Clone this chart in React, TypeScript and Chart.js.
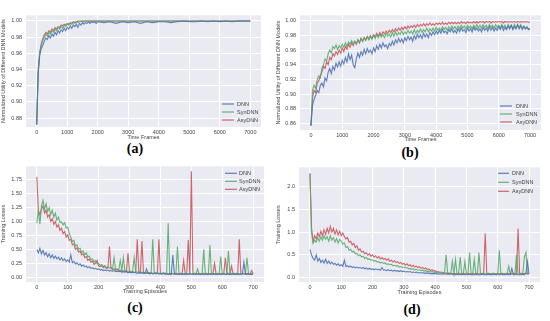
import React, { useEffect, useRef } from "react";
import { Chart, registerables } from "chart.js";
Chart.register(...registerables);

const FONT = "'Liberation Sans', Arial, sans-serif";
const TEXT = "#444444";
const BG = "#EAEAF2";
const COLORS = ["rgba(76,114,176,0.9)", "rgba(85,168,104,0.88)", "rgba(196,78,82,0.85)"];
const seriesNames = ["DNN", "SynDNN", "AsyDNN"];

// ---------- (a) ----------
const framesA = [0,50,100,150,200,250,300,350,400,450,500,550,600,650,700,750,800,850,900,950,1000,1050,1100,1150,1200,1250,1300,1350,1400,1450,1500,1550,1600,1650,1700,1750,1800,1850,1900,1950,2000,2200,2400,2600,2800,3000,3200,3400,3600,3800,4000,4200,4400,4600,4800,5000,5200,5400,5600,5800,6000,6200,6400,6600,6800,7000];
const utilA_DNN = [0.872,0.935,0.958,0.966,0.970,0.975,0.979,0.977,0.982,0.979,0.984,0.981,0.986,0.983,0.988,0.985,0.989,0.987,0.991,0.988,0.992,0.990,0.994,0.991,0.995,0.993,0.996,0.992,0.997,0.995,0.998,0.996,0.998,0.997,0.999,0.997,0.999,0.998,0.999,0.997,0.999,
  0.998,0.999,0.997,0.999,0.998,0.999,0.997,0.999,0.998,0.999,0.999,0.998,0.999,1.0,0.999,0.999,1.0,0.999,1.0,0.999,1.0,0.999,1.0,1.0,1.0];
const utilA_Syn = [0.872,0.940,0.962,0.970,0.976,0.980,0.984,0.981,0.986,0.984,0.988,0.986,0.990,0.988,0.992,0.990,0.993,0.991,0.995,0.993,0.996,0.995,0.997,0.996,0.998,0.997,0.999,0.998,0.999,0.999,1.0,0.999,1.0,1.0,1.0,1.0,1.0,1.0,1.0,1.0,1.0,
  1.0,1.0,1.0,1.0,1.0,1.0,1.0,1.0,1.0,1.0,1.0,1.0,1.0,1.0,1.0,1.0,1.0,1.0,1.0,1.0,1.0,1.0,1.0,1.0,1.0];
const utilA_Asy = [0.872,0.938,0.960,0.972,0.978,0.983,0.986,0.984,0.988,0.986,0.990,0.988,0.992,0.990,0.993,0.992,0.995,0.994,0.996,0.995,0.997,0.996,0.998,0.997,0.999,0.998,0.999,1.0,1.0,1.0,1.0,1.0,1.0,1.0,1.0,1.0,1.0,1.0,1.0,1.0,1.0,
  1.0,1.0,1.0,1.0,1.0,1.0,1.0,1.0,1.0,1.0,1.0,1.0,1.0,1.0,1.0,1.0,1.0,1.0,1.0,1.0,1.0,1.0,1.0,1.0,1.0];

// ---------- (b) ----------
const framesB = [0,50,100,150,200,250,300,350,400,450,500,550,600,650,700,750,800,850,900,950,
  1000,1050,1100,1150,1200,1250,1300,1350,1400,1450,1500,1550,1600,1650,1700,1750,1800,1850,1900,1950,
  2000,2050,2100,2150,2200,2250,2300,2350,2400,2450,2500,2550,2600,2650,2700,2750,2800,2850,2900,2950,
  3000,3050,3100,3150,3200,3250,3300,3350,3400,3450,3500,3550,3600,3650,3700,3750,3800,3850,3900,3950,
  4000,4050,4100,4150,4200,4250,4300,4350,4400,4450,4500,4550,4600,4650,4700,4750,4800,4850,4900,4950,
  5000,5050,5100,5150,5200,5250,5300,5350,5400,5450,5500,5550,5600,5650,5700,5750,5800,5850,5900,5950,
  6000,6050,6100,6150,6200,6250,6300,6350,6400,6450,6500,6550,6600,6650,6700,6750,6800,6850,6900,6950,7000];
const utilB_DNN = [0.857,0.885,0.893,0.898,0.905,0.902,0.912,0.915,0.910,0.922,
  0.918,0.930,0.935,0.928,0.938,0.933,0.942,0.937,0.944,0.938,
  0.946,0.941,0.950,0.944,0.955,0.947,0.953,0.940,0.936,0.948,
  0.956,0.950,0.958,0.953,0.961,0.955,0.962,0.957,0.960,0.955,
  0.963,0.958,0.966,0.961,0.968,0.963,0.970,0.965,0.967,0.962,
  0.969,0.966,0.972,0.967,0.974,0.970,0.976,0.971,0.975,0.970,
  0.977,0.973,0.979,0.974,0.978,0.972,0.980,0.975,0.982,0.977,
  0.981,0.976,0.983,0.978,0.982,0.977,0.984,0.980,0.985,0.981,
  0.986,0.982,0.987,0.983,0.988,0.984,0.986,0.982,0.988,0.985,
  0.989,0.984,0.987,0.983,0.989,0.985,0.990,0.986,0.988,0.984,
  0.990,0.986,0.989,0.985,0.991,0.987,0.990,0.986,0.989,0.985,
  0.991,0.987,0.990,0.986,0.992,0.987,0.991,0.986,0.990,0.987,
  0.992,0.988,0.993,0.987,0.991,0.988,0.993,0.989,0.994,0.988,
  0.992,0.989,0.995,0.989,0.993,0.988,0.992,0.989,0.991,0.988,0.989];
const utilB_Syn = [0.857,0.905,0.912,0.908,0.920,0.925,0.922,0.935,0.940,0.948,
  0.945,0.955,0.960,0.956,0.965,0.962,0.967,0.961,0.966,0.963,
  0.968,0.964,0.970,0.965,0.971,0.968,0.973,0.969,0.972,0.968,
  0.974,0.970,0.976,0.972,0.977,0.973,0.978,0.974,0.979,0.975,
  0.980,0.976,0.981,0.977,0.982,0.978,0.981,0.977,0.983,0.979,
  0.982,0.978,0.984,0.979,0.985,0.980,0.984,0.981,0.986,0.981,
  0.985,0.982,0.987,0.983,0.986,0.982,0.988,0.983,0.987,0.984,
  0.989,0.984,0.988,0.985,0.990,0.985,0.989,0.986,0.990,0.986,
  0.991,0.987,0.990,0.987,0.992,0.988,0.991,0.987,0.992,0.988,
  0.993,0.989,0.992,0.988,0.993,0.989,0.994,0.990,0.993,0.989,
  0.994,0.990,0.993,0.989,0.994,0.990,0.995,0.990,0.994,0.990,
  0.995,0.991,0.994,0.990,0.995,0.991,0.994,0.990,0.995,0.991,
  0.994,0.990,0.995,0.991,0.994,0.989,0.995,0.991,0.994,0.990,
  0.995,0.990,0.994,0.991,0.995,0.990,0.993,0.989,0.992,0.988,0.990];
const utilB_Asy = [0.857,0.895,0.905,0.902,0.915,0.918,0.925,0.930,0.938,0.935,
  0.944,0.940,0.950,0.947,0.955,0.952,0.958,0.954,0.960,0.956,
  0.963,0.958,0.965,0.961,0.968,0.964,0.970,0.966,0.972,0.968,
  0.974,0.970,0.976,0.972,0.977,0.974,0.979,0.975,0.980,0.976,
  0.981,0.978,0.983,0.979,0.984,0.980,0.985,0.982,0.986,0.983,
  0.987,0.984,0.988,0.985,0.989,0.986,0.990,0.987,0.991,0.988,
  0.992,0.989,0.993,0.990,0.993,0.991,0.994,0.991,0.995,0.992,
  0.995,0.993,0.996,0.993,0.996,0.994,0.997,0.994,0.996,0.994,
  0.997,0.995,0.997,0.995,0.998,0.995,0.997,0.995,0.998,0.996,
  0.998,0.996,0.998,0.996,0.998,0.996,0.999,0.997,0.998,0.996,
  0.999,0.997,0.998,0.997,0.999,0.997,0.999,0.997,0.999,0.998,
  0.999,0.997,0.999,0.998,0.999,0.997,0.999,0.998,0.999,0.998,
  0.999,0.998,0.999,0.997,0.999,0.998,0.999,0.998,0.999,0.998,
  0.999,0.998,0.999,0.998,0.999,0.998,0.999,0.998,0.999,0.998,0.998];

// ---------- (c) and (d) ----------
const episodes = [0,5,10,15,20,25,30,35,40,45,50,55,60,65,70,75,80,85,90,95,
  100,105,110,115,120,125,130,135,140,145,150,155,160,165,170,175,180,185,190,195,
  200,205,210,215,220,225,230,235,240,245,250,255,260,265,270,275,280,285,290,295,
  300,305,310,315,320,325,330,335,340,345,350,355,360,365,370,375,380,385,390,395,
  400,405,410,415,420,425,430,435,440,445,450,455,460,465,470,475,480,485,490,495,
  500,505,510,515,520,525,530,535,540,545,550,555,560,565,570,575,580,585,590,595,
  600,605,610,615,620,625,630,635,640,645,650,655,660,665,670,675,680,685,690,695,700];

const lossC_DNN = [0.50,0.44,0.52,0.42,0.48,0.40,0.44,0.37,0.42,0.35,0.40,0.34,0.38,0.33,0.36,0.31,0.35,0.30,0.33,0.28,
  0.31,0.27,0.40,0.26,0.28,0.24,0.26,0.22,0.24,0.20,0.22,0.19,0.20,0.17,0.19,0.16,0.17,0.15,0.16,0.14,
  0.15,0.13,0.14,0.12,0.13,0.12,0.13,0.11,0.12,0.11,0.12,0.10,0.11,0.10,0.11,0.09,0.10,0.09,0.10,0.08,
  0.09,0.08,0.09,0.08,0.08,0.07,0.08,0.07,0.08,0.07,0.07,0.15,0.07,0.06,0.07,0.06,0.07,0.06,0.07,0.06,
  0.06,0.06,0.07,0.05,0.06,0.05,0.06,0.05,0.40,0.06,0.05,0.06,0.05,0.06,0.05,0.06,0.05,0.06,0.05,0.06,
  0.05,0.05,0.06,0.05,0.06,0.05,0.05,0.06,0.05,0.06,0.05,0.05,0.06,0.05,0.05,0.06,0.05,0.05,0.06,0.05,
  0.05,0.06,0.05,0.05,0.06,0.05,0.05,0.06,0.05,0.05,0.06,0.05,0.05,0.06,0.27,0.05,0.05,0.06,0.05,0.05,0.05];
const lossC_Syn = [0.97,1.20,0.95,1.28,1.38,1.22,1.32,1.18,1.25,1.12,1.20,1.08,1.15,1.02,1.08,0.98,1.00,0.94,0.98,0.88,
  0.90,0.78,0.72,0.64,0.66,0.56,0.58,0.50,0.52,0.44,0.47,0.40,0.44,0.36,0.38,0.31,0.33,0.27,0.30,0.24,
  0.25,0.21,0.23,0.19,0.21,0.17,0.19,0.16,0.18,0.15,0.35,0.14,0.15,0.13,0.30,0.12,0.35,0.11,0.12,0.10,
  0.11,0.10,0.11,0.35,0.10,0.09,0.10,0.09,0.09,0.08,0.09,0.08,0.09,0.08,0.08,0.68,0.08,0.07,0.08,0.07,
  0.07,0.07,0.08,0.07,0.07,0.97,0.07,0.06,0.07,0.06,0.07,0.55,0.06,0.07,0.06,0.06,0.07,0.06,0.06,0.07,
  0.06,0.06,0.07,0.06,0.15,0.06,0.06,0.07,0.50,0.06,0.07,0.06,0.58,0.06,0.07,0.06,0.06,0.07,0.06,0.37,
  0.06,0.07,0.06,0.06,0.47,0.06,0.07,0.06,0.06,0.07,0.06,0.06,0.07,0.06,0.06,0.07,0.35,0.06,0.06,0.07,0.06];
const lossC_Asy = [1.80,1.20,1.12,1.22,1.28,1.15,1.20,1.08,1.12,1.00,1.05,0.95,1.00,0.90,0.94,0.84,0.88,0.78,0.82,0.72,
  0.76,0.66,0.68,0.58,0.60,0.50,0.53,0.45,0.47,0.40,0.42,0.35,0.37,0.30,0.33,0.27,0.29,0.23,0.25,0.30,
  0.20,0.19,0.21,0.17,0.19,0.16,0.17,0.55,0.16,0.14,0.15,0.13,0.14,0.12,0.13,0.11,0.12,0.10,0.11,0.43,
  0.10,0.09,0.10,0.09,0.09,0.68,0.09,0.08,0.65,0.08,0.08,0.07,0.08,0.07,0.08,0.07,0.07,0.08,0.07,0.68,
  0.07,0.06,0.07,0.06,0.07,0.06,0.06,0.07,0.06,0.06,0.07,0.06,0.06,0.07,0.06,0.30,0.06,0.07,0.67,0.06,
  1.90,0.06,0.07,0.06,0.06,0.07,0.06,0.06,0.07,0.06,0.06,0.07,0.06,0.06,0.07,0.25,0.06,0.06,0.07,0.06,
  0.06,0.07,0.35,0.06,0.07,0.06,0.20,0.06,0.07,0.06,0.06,0.68,0.06,0.07,0.06,0.06,0.07,0.06,0.06,0.12,0.06];

const lossD_DNN = [0.62,0.50,0.42,0.38,0.50,0.36,0.42,0.33,0.38,0.32,0.40,0.31,0.36,0.30,0.34,0.29,0.31,0.27,0.30,0.26,
  0.28,0.25,0.38,0.24,0.26,0.23,0.25,0.22,0.24,0.21,0.23,0.21,0.22,0.20,0.22,0.19,0.21,0.18,0.20,0.18,
  0.19,0.17,0.19,0.17,0.18,0.16,0.22,0.16,0.17,0.15,0.17,0.15,0.16,0.14,0.16,0.14,0.15,0.13,0.15,0.13,
  0.14,0.12,0.13,0.12,0.13,0.11,0.12,0.11,0.12,0.10,0.11,0.10,0.11,0.09,0.10,0.09,0.10,0.08,0.09,0.08,
  0.09,0.08,0.08,0.07,0.08,0.07,0.08,0.07,0.07,0.07,0.08,0.07,0.07,0.06,0.07,0.06,0.07,0.06,0.07,0.06,
  0.06,0.06,0.07,0.06,0.06,0.06,0.07,0.06,0.06,0.06,0.07,0.06,0.06,0.06,0.07,0.06,0.06,0.06,0.07,0.06,
  0.06,0.06,0.07,0.06,0.06,0.06,0.07,0.06,0.06,0.20,0.06,0.06,0.07,0.06,0.06,0.06,0.07,0.06,0.10,0.35,0.08];
const lossD_Syn = [2.28,1.00,0.75,0.82,0.78,0.88,0.80,0.90,0.82,0.92,0.84,0.90,0.80,0.92,0.82,0.88,0.78,0.86,0.76,0.84,
  0.80,0.74,0.76,0.66,0.68,0.60,0.62,0.56,0.58,0.52,0.53,0.48,0.50,0.45,0.47,0.42,0.44,0.40,0.41,0.38,
  0.39,0.36,0.37,0.34,0.35,0.32,0.34,0.31,0.32,0.29,0.30,0.28,0.29,0.26,0.27,0.25,0.26,0.23,0.24,0.22,
  0.23,0.21,0.22,0.19,0.20,0.18,0.19,0.17,0.18,0.16,0.17,0.15,0.16,0.14,0.15,0.13,0.14,0.12,0.13,0.11,
  0.12,0.10,0.11,0.10,0.10,0.09,0.10,0.50,0.09,0.08,0.09,0.35,0.08,0.40,0.08,0.09,0.45,0.08,0.08,0.35,
  0.08,0.09,0.55,0.08,0.08,0.40,0.08,0.09,0.55,0.08,0.08,0.09,0.08,0.08,0.09,0.08,0.08,0.09,0.08,0.08,
  0.09,0.60,0.08,0.08,0.09,0.08,0.08,0.25,0.08,0.08,0.09,0.08,0.50,0.08,0.09,0.08,0.08,0.45,0.55,0.09,0.08];
const lossD_Asy = [2.30,1.10,0.80,0.92,0.85,0.98,0.90,1.02,0.92,1.05,0.95,1.08,0.98,1.13,1.00,1.08,0.96,1.05,0.94,1.02,
  0.92,0.98,0.90,0.85,0.88,0.78,0.80,0.72,0.75,0.66,0.70,0.60,0.63,0.56,0.58,0.52,0.55,0.49,0.52,0.47,
  0.50,0.45,0.48,0.43,0.46,0.41,0.44,0.40,0.42,0.38,0.41,0.36,0.38,0.34,0.37,0.33,0.35,0.31,0.33,0.29,
  0.31,0.27,0.30,0.26,0.28,0.24,0.27,0.23,0.25,0.22,0.24,0.20,0.22,0.19,0.21,0.17,0.19,0.15,0.17,0.14,
  0.15,0.12,0.13,0.11,0.12,0.10,0.11,0.09,0.10,0.09,0.09,0.08,0.09,0.08,0.08,0.09,0.08,0.08,0.09,0.08,
  0.08,0.09,0.08,0.08,0.09,0.08,0.08,0.09,0.08,0.08,0.09,0.08,0.97,0.08,0.09,0.08,0.08,0.09,0.08,0.08,
  0.09,0.08,0.08,0.09,0.08,0.08,0.09,0.08,0.08,0.09,0.08,0.08,0.09,1.08,0.08,0.09,0.08,0.08,0.09,0.08,0.08];

// tick labels
const frameTicks = [0, 1000, 2000, 3000, 4000, 5000, 6000, 7000];
const episodeTicks = [0, 100, 200, 300, 400, 500, 600, 700];
const utilTicksA = [0.88, 0.90, 0.92, 0.94, 0.96, 0.98, 1.00];
const utilTicksB = [0.86, 0.88, 0.90, 0.92, 0.94, 0.96, 0.98, 1.00];
const lossTicksC = [0, 0.25, 0.5, 0.75, 1.0, 1.25, 1.5, 1.75];
const lossTicksD = [0, 0.5, 1.0, 1.5, 2.0];

type Spec = {
  id: string;
  label: string;
  labelX: number;
  labelY: number;
  left: number; top: number; width: number; height: number;
  yAxisW: number; xAxisH: number;
  xs: number[]; ys: number[][];
  xMin: number; xMax: number; yMin: number; yMax: number;
  xTicks: number[]; yTicks: number[]; yDigits: number;
  xTitle: string; yTitle: string;
  legend: { x1: number; x2: number; tx: number; rows: number[]; fromBottom: boolean };
};

const specs: Spec[] = [
  {
    id: "a", label: "(a)", labelX: 135, labelY: 149,
    left: 0, top: 8, width: 261, height: 133, yAxisW: 26, xAxisH: 14,
    xs: framesA, ys: [utilA_DNN, utilA_Syn, utilA_Asy],
    xMin: -350, xMax: 7350, yMin: 0.869, yMax: 1.007,
    xTicks: frameTicks, yTicks: utilTicksA, yDigits: 2,
    xTitle: "Time Frames", yTitle: "Normalized Utility of Different DNN Models",
    legend: { x1: -39, x2: -27, tx: -24, rows: [-23, -15, -7], fromBottom: true },
  },
  {
    id: "b", label: "(b)", labelX: 410, labelY: 153,
    left: 275, top: 8, width: 266, height: 135, yAxisW: 25, xAxisH: 13,
    xs: framesB, ys: [utilB_DNN, utilB_Syn, utilB_Asy],
    xMin: -350, xMax: 7350, yMin: 0.851, yMax: 1.0075,
    xTicks: frameTicks, yTicks: utilTicksB, yDigits: 2,
    xTitle: "Time Frames", yTitle: "Normalized Utility of Different DNN Models",
    legend: { x1: -41, x2: -29, tx: -25, rows: [-24, -16, -8], fromBottom: true },
  },
  {
    id: "c", label: "(c)", labelX: 135, labelY: 308,
    left: 0, top: 159, width: 264, height: 136, yAxisW: 26, xAxisH: 13,
    xs: episodes, ys: [lossC_DNN, lossC_Syn, lossC_Asy],
    xMin: -35, xMax: 735, yMin: -0.085, yMax: 1.99,
    xTicks: episodeTicks, yTicks: lossTicksC, yDigits: 2,
    xTitle: "Training Episodes", yTitle: "Training Losses",
    legend: { x1: -39, x2: -27, tx: -25, rows: [7, 15, 23], fromBottom: false },
  },
  {
    id: "d", label: "(d)", labelX: 412, labelY: 310,
    left: 275, top: 160, width: 265, height: 136, yAxisW: 24, xAxisH: 14,
    xs: episodes, ys: [lossD_DNN, lossD_Syn, lossD_Asy],
    xMin: -35, xMax: 735, yMin: -0.1, yMax: 2.43,
    xTicks: episodeTicks, yTicks: lossTicksD, yDigits: 1,
    xTitle: "Training Episodes", yTitle: "Training Losses",
    legend: { x1: -42, x2: -31, tx: -28, rows: [6, 15, 24], fromBottom: false },
  },
];

function Panel({ spec }: { spec: Spec }) {
  const ref = useRef<HTMLCanvasElement | null>(null);
  useEffect(() => {
    if (!ref.current) return;
    const s = spec;
    const deco = {
      id: "deco" + s.id,
      beforeDraw(chart: any) {
        const { ctx, chartArea: a } = chart;
        ctx.save();
        ctx.fillStyle = BG;
        ctx.fillRect(a.left, a.top, a.right - a.left, a.bottom - a.top);
        ctx.restore();
      },
      afterDraw(chart: any) {
        const { ctx, chartArea: a } = chart;
        const lg = s.legend;
        ctx.save();
        ctx.font = `5.5px ${FONT}`;
        ctx.textBaseline = "middle";
        ctx.textAlign = "left";
        seriesNames.forEach((name, i) => {
          const y = (lg.fromBottom ? a.bottom : a.top) + lg.rows[i];
          ctx.strokeStyle = COLORS[i];
          ctx.lineWidth = 1.2;
          ctx.beginPath();
          ctx.moveTo(a.right + lg.x1, y);
          ctx.lineTo(a.right + lg.x2, y);
          ctx.stroke();
          ctx.fillStyle = TEXT;
          ctx.fillText(name, a.right + lg.tx, y);
        });
        ctx.restore();
      },
    };
    const tickFont = { family: FONT, size: 5.5 };
    const chart = new Chart(ref.current, {
      type: "line",
      data: {
        datasets: s.ys.map((vals, i) => ({
          label: seriesNames[i],
          data: s.xs.map((x, j) => ({ x, y: vals[j] })),
          borderColor: COLORS[i],
          borderWidth: 1.1,
          pointRadius: 0,
          tension: 0,
          fill: false,
        })),
      },
      options: {
        animation: false,
        responsive: false,
        events: [],
        layout: { padding: 0 },
        plugins: { legend: { display: false }, tooltip: { enabled: false } },
        scales: {
          x: {
            type: "linear",
            min: s.xMin,
            max: s.xMax,
            afterBuildTicks: (sc: any) => { sc.ticks = s.xTicks.map((v) => ({ value: v })); },
            afterFit: (sc: any) => { sc.height = s.xAxisH; },
            grid: { color: "#ffffff", lineWidth: 1, drawTicks: false },
            border: { display: false },
            ticks: {
              autoSkip: false, maxRotation: 0, padding: 2,
              font: tickFont, color: TEXT,
              callback: (v: any) => String(v),
            },
            title: { display: true, text: s.xTitle, font: tickFont, color: TEXT, padding: 0 },
          },
          y: {
            type: "linear",
            min: s.yMin,
            max: s.yMax,
            afterBuildTicks: (sc: any) => { sc.ticks = s.yTicks.map((v) => ({ value: v })); },
            afterFit: (sc: any) => { sc.width = s.yAxisW; },
            grid: { color: "#ffffff", lineWidth: 1, drawTicks: false },
            border: { display: false },
            ticks: {
              autoSkip: false, padding: 4,
              font: tickFont, color: TEXT,
              callback: (v: any) => Number(v).toFixed(s.yDigits),
            },
            title: { display: true, text: s.yTitle, font: tickFont, color: TEXT, padding: 0 },
          },
        },
      },
      plugins: [deco],
    } as any);
    return () => chart.destroy();
  }, [spec]);
  return (
    <>
      <canvas
        ref={ref}
        width={spec.width}
        height={spec.height}
        style={{ position: "absolute", left: spec.left, top: spec.top, width: spec.width, height: spec.height }}
      />
      <div
        style={{
          position: "absolute", left: spec.labelX, top: spec.labelY,
          transform: "translate(-50%, -50%)",
          font: "bold 14px 'Liberation Serif', 'Times New Roman', serif",
          lineHeight: 1, color: "#000", whiteSpace: "nowrap",
        }}
      >
        {spec.label}
      </div>
    </>
  );
}

export default function App() {
  return (
    <div style={{ position: "absolute", left: 0, top: 0, width: 550, height: 321, background: "#fff", overflow: "hidden" }}>
      {specs.map((s) => <Panel key={s.id} spec={s} />)}
    </div>
  );
}
